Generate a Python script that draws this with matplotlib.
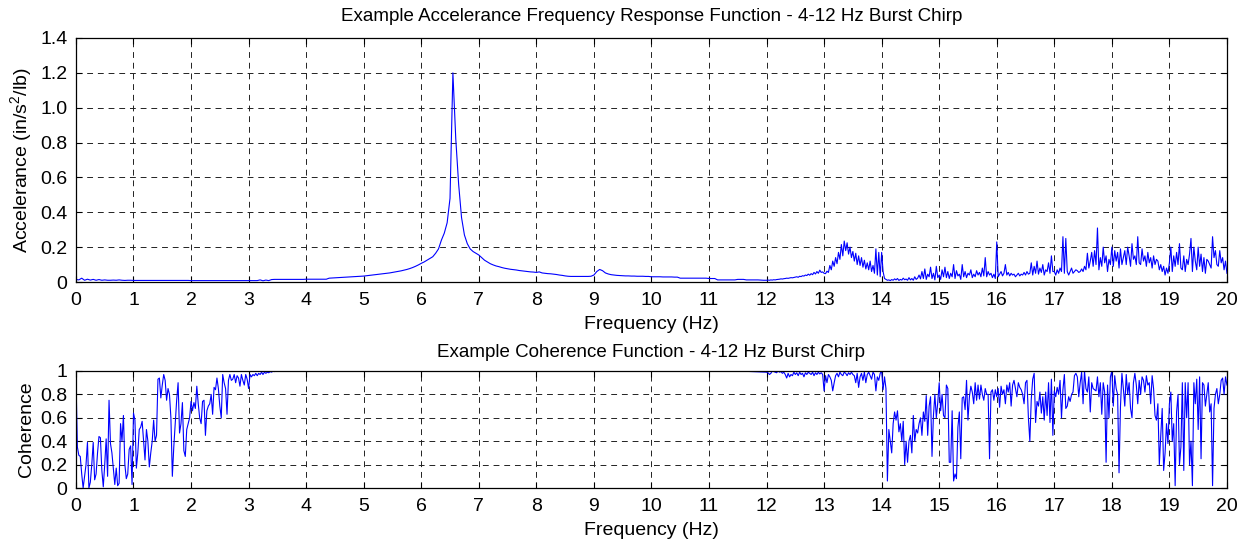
import numpy as np
import matplotlib
matplotlib.use('Agg')
import matplotlib.pyplot as plt

plt.rcParams['font.family'] = ['Liberation Sans', 'DejaVu Sans']
plt.rcParams['font.size'] = 14

# accelerance FRF, 0 - 11.95 Hz every 0.05 Hz
acc_lo = [
    0.015, 0.012, 0.022, 0.010, 0.016, 0.011, 0.015, 0.010, 0.014, 0.010, 0.012, 0.010, 0.010, 0.011, 0.010, 0.012, 0.010, 0.009, 0.010, 0.010,
    0.009, 0.009, 0.009, 0.009, 0.009, 0.009, 0.009, 0.009, 0.009, 0.009, 0.009, 0.009, 0.009, 0.009, 0.009, 0.009, 0.009, 0.009, 0.009, 0.009,
    0.008, 0.008, 0.008, 0.008, 0.008, 0.008, 0.008, 0.008, 0.008, 0.008, 0.008, 0.008, 0.008, 0.008, 0.008, 0.008, 0.008, 0.008, 0.008, 0.008,
    0.008, 0.008, 0.008, 0.008, 0.012, 0.007, 0.011, 0.008, 0.014, 0.015, 0.015, 0.015, 0.015, 0.015, 0.015, 0.015, 0.015, 0.015, 0.015, 0.015,
    0.016, 0.016, 0.016, 0.016, 0.016, 0.016, 0.016, 0.016, 0.022, 0.023, 0.024, 0.025, 0.026, 0.027, 0.028, 0.029, 0.030, 0.031, 0.032, 0.033,
    0.034, 0.036, 0.038, 0.040, 0.042, 0.044, 0.046, 0.048, 0.050, 0.052, 0.055, 0.058, 0.061, 0.064, 0.068, 0.072, 0.077, 0.083, 0.090, 0.098,
    0.107, 0.115, 0.125, 0.135, 0.145, 0.165, 0.190, 0.240, 0.280, 0.340, 0.480, 1.200, 0.820, 0.560, 0.370, 0.270, 0.220, 0.190, 0.175, 0.165,
    0.155, 0.140, 0.125, 0.115, 0.105, 0.098, 0.092, 0.088, 0.083, 0.079, 0.076, 0.073, 0.071, 0.069, 0.066, 0.064, 0.062, 0.060, 0.058, 0.057,
    0.055, 0.058, 0.052, 0.050, 0.048, 0.047, 0.045, 0.043, 0.040, 0.038, 0.035, 0.033, 0.032, 0.032, 0.032, 0.032, 0.032, 0.032, 0.032, 0.033,
    0.040, 0.060, 0.072, 0.065, 0.052, 0.046, 0.042, 0.040, 0.038, 0.037, 0.036, 0.035, 0.035, 0.034, 0.034, 0.033, 0.033, 0.033, 0.032, 0.032,
    0.030, 0.030, 0.030, 0.030, 0.029, 0.029, 0.029, 0.029, 0.028, 0.028, 0.022, 0.022, 0.022, 0.022, 0.022, 0.022, 0.022, 0.022, 0.022, 0.022,
    0.020, 0.020, 0.020, 0.012, 0.012, 0.012, 0.012, 0.012, 0.012, 0.012, 0.015, 0.015, 0.015, 0.012, 0.012, 0.012, 0.012, 0.012, 0.011, 0.010,
]

# accelerance FRF, 12 - 20 Hz every 0.025 Hz
acc_hi = [
    0.010, 0.011, 0.010, 0.012, 0.011, 0.013, 0.012, 0.014, 0.015, 0.016, 0.018, 0.017, 0.019, 0.020, 0.022, 0.021, 0.023, 0.025, 0.024, 0.026,
    0.028, 0.030, 0.027, 0.033, 0.031, 0.036, 0.034, 0.040, 0.037, 0.045, 0.039, 0.048, 0.042, 0.055, 0.046, 0.060, 0.050, 0.068, 0.055, 0.058,
    0.050, 0.048, 0.062, 0.055, 0.095, 0.070, 0.120, 0.090, 0.140, 0.105, 0.170, 0.130, 0.215, 0.150, 0.235, 0.180, 0.225, 0.160, 0.200, 0.140,
    0.175, 0.120, 0.165, 0.100, 0.150, 0.095, 0.140, 0.085, 0.125, 0.075, 0.110, 0.070, 0.120, 0.060, 0.095, 0.050, 0.190, 0.040, 0.170, 0.030,
    0.170, 0.060, 0.020, 0.015, 0.010, 0.012, 0.008, 0.014, 0.010, 0.018, 0.012, 0.020, 0.009, 0.015, 0.011, 0.022, 0.013, 0.017, 0.010, 0.025,
    0.012, 0.020, 0.010, 0.030, 0.015, 0.022, 0.040, 0.018, 0.060, 0.020, 0.075, 0.015, 0.045, 0.030, 0.085, 0.020, 0.050, 0.012, 0.090, 0.025,
    0.040, 0.015, 0.070, 0.030, 0.085, 0.025, 0.060, 0.020, 0.050, 0.030, 0.100, 0.020, 0.065, 0.035, 0.045, 0.015, 0.100, 0.030, 0.060, 0.025,
    0.050, 0.040, 0.070, 0.025, 0.045, 0.030, 0.065, 0.040, 0.055, 0.030, 0.080, 0.035, 0.140, 0.030, 0.060, 0.040, 0.050, 0.025, 0.045, 0.020,
    0.230, 0.030, 0.045, 0.060, 0.035, 0.050, 0.100, 0.040, 0.055, 0.035, 0.050, 0.040, 0.045, 0.030, 0.040, 0.050, 0.035, 0.045, 0.040, 0.055,
    0.040, 0.060, 0.045, 0.050, 0.110, 0.040, 0.090, 0.050, 0.120, 0.045, 0.080, 0.055, 0.100, 0.040, 0.070, 0.060, 0.110, 0.050, 0.150, 0.060,
    0.060, 0.040, 0.070, 0.050, 0.080, 0.060, 0.260, 0.050, 0.250, 0.060, 0.040, 0.060, 0.080, 0.050, 0.060, 0.070, 0.065, 0.055, 0.060, 0.075,
    0.060, 0.090, 0.070, 0.165, 0.080, 0.120, 0.170, 0.090, 0.180, 0.100, 0.310, 0.070, 0.140, 0.090, 0.200, 0.110, 0.150, 0.060, 0.130, 0.100,
    0.200, 0.090, 0.180, 0.120, 0.170, 0.080, 0.190, 0.100, 0.140, 0.180, 0.100, 0.200, 0.150, 0.090, 0.220, 0.130, 0.150, 0.100, 0.260, 0.110,
    0.100, 0.190, 0.120, 0.150, 0.090, 0.170, 0.110, 0.140, 0.080, 0.150, 0.100, 0.130, 0.120, 0.070, 0.100, 0.060, 0.090, 0.040, 0.080, 0.050,
    0.110, 0.200, 0.060, 0.150, 0.090, 0.170, 0.100, 0.220, 0.080, 0.070, 0.150, 0.060, 0.130, 0.100, 0.160, 0.250, 0.060, 0.200, 0.120, 0.070,
    0.200, 0.090, 0.160, 0.060, 0.140, 0.050, 0.130, 0.120, 0.100, 0.080, 0.260, 0.140, 0.180, 0.100, 0.090, 0.180, 0.110, 0.140, 0.070, 0.120,
    0.050,
]

# coherence, 0 - 3.475 Hz every 0.025 Hz
coh_lo = [
    0.95, 0.35, 0.28, 0.27, 0.12, 0.00, 0.10, 0.20, 0.39, 0.00, 0.05, 0.20, 0.39, 0.07, 0.12, 0.30, 0.44, 0.43, 0.15, 0.01,
    0.20, 0.42, 0.10, 0.75, 0.38, 0.30, 0.17, 0.03, 0.17, 0.02, 0.04, 0.55, 0.40, 0.62, 0.20, 0.08, 0.12, 0.33, 0.36, 0.03,
    0.64, 0.58, 0.17, 0.30, 0.50, 0.52, 0.57, 0.40, 0.24, 0.50, 0.40, 0.18, 0.30, 0.40, 0.58, 0.40, 0.45, 0.93, 0.94, 0.77,
    0.88, 0.97, 0.92, 0.75, 0.85, 0.80, 0.60, 0.10, 0.35, 0.55, 0.75, 0.90, 0.47, 0.55, 0.73, 0.32, 0.27, 0.50, 0.55, 0.60,
    0.74, 0.66, 0.73, 0.68, 0.87, 0.72, 0.60, 0.55, 0.74, 0.75, 0.45, 0.66, 0.70, 0.72, 0.80, 0.63, 0.86, 0.84, 0.94, 0.85,
    0.70, 0.60, 0.97, 0.90, 0.85, 0.63, 0.92, 0.97, 0.92, 0.93, 0.97, 0.90, 0.96, 0.94, 0.87, 0.97, 0.92, 0.88, 0.97, 0.93,
    0.85, 0.97, 0.95, 0.97, 0.96, 0.98, 0.96, 0.98, 0.97, 0.99, 0.97, 0.99, 0.98, 0.99, 0.985, 0.995, 0.99, 1.0, 0.995, 1.0,
]

# coherence, 3.5 - 11.5 Hz every 0.5 Hz (flat)
coh_mid = [1.0, 1.0, 1.0, 1.0, 1.0, 1.0, 1.0, 1.0, 1.0, 1.0, 1.0, 1.0, 1.0, 1.0, 1.0, 1.0, 1.0]

# coherence, 12 - 20 Hz every 0.025 Hz
coh_hi = [
    0.99, 0.985, 0.97, 0.98, 1.0, 0.995, 0.99, 0.985, 1.0, 0.99, 0.995, 0.98, 0.99, 0.97, 0.94, 0.98, 0.95, 0.97, 0.96, 0.99,
    0.97, 0.985, 0.96, 0.99, 0.97, 0.98, 0.95, 0.985, 0.97, 0.99, 0.98, 0.97, 0.99, 0.96, 0.985, 0.97, 0.99, 0.975, 0.985, 0.97,
    0.83, 0.96, 0.90, 0.97, 0.95, 0.92, 0.83, 0.90, 0.96, 0.98, 0.95, 0.99, 0.97, 0.96, 0.99, 0.98, 0.96, 0.985, 0.97, 0.99,
    0.97, 0.96, 0.90, 0.98, 0.86, 0.95, 0.98, 0.92, 0.99, 0.90, 0.97, 0.99, 0.96, 0.93, 0.99, 0.97, 0.83, 0.95, 0.92, 0.98,
    1.0, 0.84, 0.95, 0.85, 0.06, 0.50, 0.40, 0.30, 0.55, 0.65, 0.58, 0.66, 0.48, 0.55, 0.40, 0.57, 0.20, 0.40, 0.22, 0.40,
    0.45, 0.30, 0.62, 0.40, 0.50, 0.47, 0.55, 0.60, 0.45, 0.65, 0.57, 0.79, 0.45, 0.70, 0.78, 0.27, 0.62, 0.80, 0.60, 0.73,
    0.90, 0.66, 0.80, 0.62, 0.60, 0.88, 0.85, 0.22, 0.22, 0.66, 0.06, 0.12, 0.08, 0.52, 0.65, 0.25, 0.77, 0.78, 0.67, 0.92,
    0.58, 0.78, 0.87, 0.82, 0.72, 0.90, 0.75, 0.88, 0.76, 0.88, 0.80, 0.75, 0.85, 0.80, 0.80, 0.25, 0.82, 0.84, 0.75, 0.84,
    0.78, 0.85, 0.69, 0.87, 0.80, 0.84, 0.72, 0.88, 0.82, 0.90, 0.70, 0.88, 0.92, 0.85, 0.78, 0.90, 0.86, 0.84, 0.80, 0.72,
    0.90, 0.92, 0.60, 0.40, 0.76, 0.93, 0.98, 0.56, 0.74, 0.70, 0.82, 0.64, 0.78, 0.58, 0.82, 0.62, 0.90, 0.56, 0.93, 0.45,
    0.83, 0.78, 0.86, 0.80, 0.92, 0.60, 0.84, 0.97, 0.68, 0.70, 0.78, 0.74, 0.80, 0.82, 0.96, 0.98, 0.95, 0.78, 0.90, 0.99,
    0.72, 1.0, 0.85, 0.82, 0.95, 0.65, 0.90, 0.85, 0.84, 0.83, 0.95, 0.78, 0.90, 0.63, 0.90, 0.82, 0.22, 0.88, 0.60, 0.95,
    1.0, 0.70, 0.96, 0.85, 0.80, 0.13, 0.70, 0.98, 0.85, 0.70, 0.97, 0.80, 0.90, 0.68, 0.60, 0.90, 0.98, 0.88, 0.72, 0.92,
    0.80, 0.95, 0.92, 0.82, 0.96, 0.88, 0.90, 0.72, 0.96, 0.85, 0.62, 0.58, 0.72, 0.20, 0.45, 0.68, 0.15, 0.30, 0.55, 0.38,
    0.72, 0.82, 0.40, 0.55, 0.02, 0.65, 0.80, 0.20, 0.35, 0.90, 0.15, 0.90, 0.60, 0.90, 0.20, 0.40, 0.02, 0.90, 0.72, 0.93,
    0.50, 0.95, 0.25, 0.90, 0.88, 0.70, 0.80, 0.90, 0.65, 0.72, 0.02, 0.68, 0.80, 0.85, 0.72, 0.80, 0.92, 0.94, 0.80, 0.95,
    0.88,
]

# sample frequencies of each segment
f_acc = np.concatenate([0.05 * np.arange(len(acc_lo)), 12 + 0.025 * np.arange(len(acc_hi))])
acc = np.array(acc_lo + acc_hi)
f_coh = np.concatenate([0.025 * np.arange(len(coh_lo)), 3.5 + 0.5 * np.arange(len(coh_mid)),
                        12 + 0.025 * np.arange(len(coh_hi))])
coh = np.array(coh_lo + coh_mid + coh_hi)

xticks = list(range(0, 21))
acc_ticks = [0, 0.2, 0.4, 0.6, 0.8, 1.0, 1.2, 1.4]
acc_labels = ['0', '0.2', '0.4', '0.6', '0.8', '1.0', '1.2', '1.4']
coh_ticks = [0, 0.2, 0.4, 0.6, 0.8, 1.0]
coh_labels = ['0', '0.2', '0.4', '0.6', '0.8', '1']

fig = plt.figure(figsize=(12.45, 5.42), dpi=100)
ax1 = fig.add_axes([0.061, 0.4797, 0.9245, 0.4502])
ax2 = fig.add_axes([0.061, 0.0996, 0.9245, 0.2159])

ax1.plot(f_acc, acc, color='#0000ff', lw=0.8)
ax2.plot(f_coh, coh, color='#0000ff', lw=0.8)

for ax in (ax1, ax2):
    ax.set_xlim(0, 20)
    ax.set_xticks(xticks)
    ax.grid(True, color='#222222', linestyle=(0, (6, 5)), lw=0.7)
    ax.tick_params(direction='in', top=True, right=True, length=4, width=0.8, labelsize=14, pad=6)
    ax.tick_params(axis='x', pad=7)
    for s in ax.spines.values():
        s.set_linewidth(0.9)
    ax.set_xlabel('Frequency (Hz)', fontsize=14, labelpad=5)

ax1.set_ylim(0, 1.4)
ax1.set_yticks(acc_ticks)
ax1.set_yticklabels(acc_labels)
ax1.set_ylabel('Accelerance (in/s$^{\\mathregular{2}}$/lb)', fontsize=14, labelpad=4)
ax1.set_title('Example Accelerance Frequency Response Function - 4-12 Hz Burst Chirp', fontsize=13.5, pad=12)

ax2.set_ylim(0, 1)
ax2.set_yticks(coh_ticks)
ax2.set_yticklabels(coh_labels)
ax2.set_ylabel('Coherence', fontsize=14, labelpad=4)
ax2.set_title('Example Coherence Function - 4-12 Hz Burst Chirp', fontsize=13.5, pad=10)

fig.savefig('out.png', dpi=100)
